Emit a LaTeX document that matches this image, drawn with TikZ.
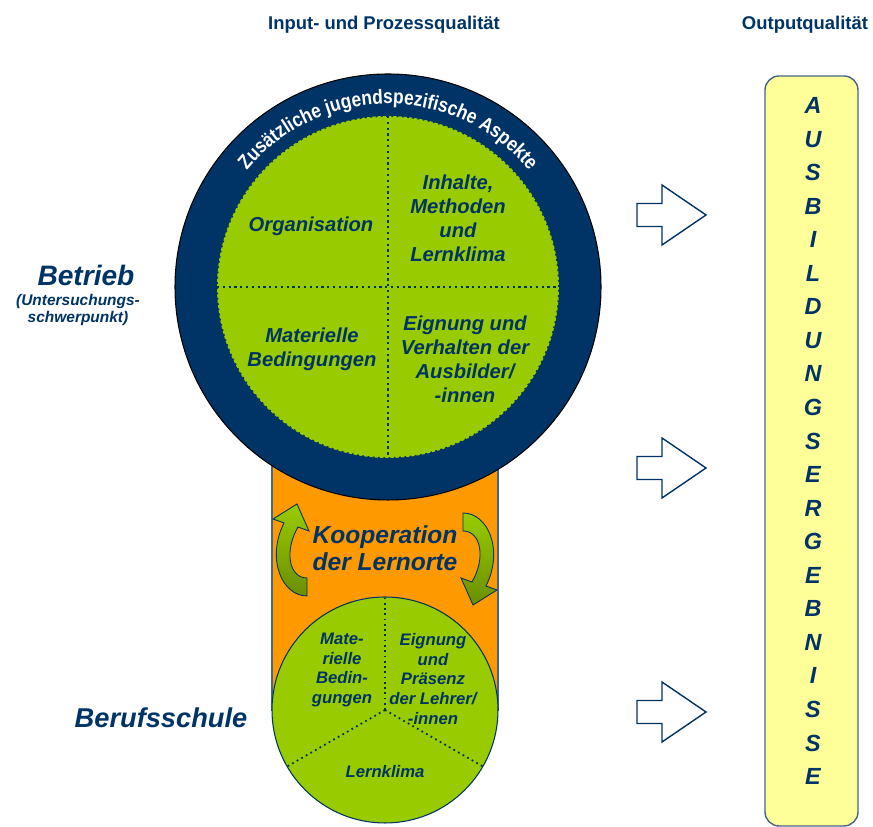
\documentclass[tikz,border=0pt]{standalone}
\usepackage{fontspec}
\setmainfont{Liberation Sans}
\newfontfamily\ringfont[FakeStretch=0.86]{Liberation Sans}
\usetikzlibrary{decorations.text}

\definecolor{navy}{RGB}{0,51,102}
\definecolor{leaf}{RGB}{153,204,0}
\definecolor{olive}{RGB}{107,142,0}
\definecolor{amber}{RGB}{255,153,0}
\definecolor{pale}{RGB}{255,255,153}
\definecolor{frame}{RGB}{70,100,140}

\begin{document}
\begin{tikzpicture}[x=0.02cm,y=0.02cm,
    sector/.style={font=\fontsize{11.5}{13.6}\selectfont\bfseries\itshape,
      text=navy, align=center, inner sep=0pt},
    sectorsmall/.style={font=\fontsize{9.5}{11.3}\selectfont\bfseries\itshape,
      text=navy, align=center, inner sep=0pt},
    place/.style={font=\fontsize{16}{18}\selectfont\bfseries\itshape,
      text=navy, align=center, inner sep=0pt},
    heading/.style={font=\fontsize{10.5}{12}\selectfont\bfseries,
      text=navy, inner sep=0pt},
    divider/.style={navy, dotted, line width=1.3pt},
    bentarrow/.style={draw=navy, line width=0.5pt, top color=leaf,
      bottom color=olive},
    outarrow/.style={draw=navy, line width=0.8pt, fill=white}]

  \useasboundingbox (0,0) rectangle (873,827);

  \coordinate (Betrieb) at (388,540);
  \coordinate (Schule) at (385,117);

  % column headings
  \node[heading] (input) at (384,802) {Input- und Prozessqualität};
  \node[heading] (output) at (805,802) {Outputqualität};

  % link between the two places of learning
  \draw[frame, fill=amber, line width=0.6pt] (272,117) rectangle (498,450);

  % company: ring and four sectors
  \draw[black, line width=0.6pt, fill=navy] (Betrieb) circle[radius=213];
  \draw[navy, dotted, line width=1pt, fill=leaf] (Betrieb) circle[radius=171];
  \draw[divider] (388,711) -- (388,369);
  \draw[divider] (217,540) -- (559,540);
  \path[decorate, decoration={text along path, text align=center,
      text color=white,
      text={|\ringfont\fontsize{11.5}{13}\selectfont\bfseries|Zusätzliche jugendspezifische Aspekte}}]
    (Betrieb) ++(180:183) arc[start angle=180, end angle=0, radius=183];

  \node[sector] (orga) at (311,601) {Organisation};
  \node[sector] (inhalte) at (458,609) {Inhalte,\\Methoden\\und\\Lernklima};
  \node[sector] (material) at (312,478) {Materielle\\Bedingungen};
  \node[sector] (ausbilder) at (465,468)
    {Eignung und\\Verhalten der\\Ausbilder/\\-innen};

  % vocational school: three sectors
  \draw[navy, line width=0.6pt, fill=leaf] (Schule) circle[radius=113];
  \draw[divider, line width=1pt] (Schule) -- (385,230);
  \draw[divider, line width=1pt] (Schule) -- ++(210:113);
  \draw[divider, line width=1pt] (Schule) -- ++(330:113);

  \node[sectorsmall] (materialbs) at (342,157) {Mate-\\rielle\\Bedin-\\gungen};
  \node[sectorsmall] (lehrer) at (433,148)
    {Eignung\\und\\Präsenz\\der Lehrer/\\-innen};
  \node[sectorsmall] (klima) at (385,55) {Lernklima};

  % cooperation with the two bent arrows
  \node[place, font=\fontsize{14}{15.3}\selectfont\bfseries\itshape]
    (koop) at (385,279) {Kooperation\\der Lernorte};
  \path[bentarrow] (307,231) .. controls (282,231) and (266,268) .. (284,304)
    -- (273,308) -- (297,323) -- (309,296) -- (298,300)
    .. controls (284,276) and (289,249) .. (307,249) -- cycle;
  \begin{scope}[rotate around={180:(385,272.5)}]
    \path[bentarrow] (307,231) .. controls (282,231) and (266,268) .. (284,304)
      -- (273,308) -- (297,323) -- (309,296) -- (298,300)
      .. controls (284,276) and (289,249) .. (307,249) -- cycle;
  \end{scope}

  % places of learning
  \node[place] (betrieb) at (86,552) {Betrieb};
  \node[place, font=\fontsize{8.8}{9.8}\selectfont\bfseries\itshape]
    (schwerpunkt) at (78,517) {(Untersuchungs-\\schwerpunkt)};
  \node[place, font=\fontsize{15.5}{18}\selectfont\bfseries\itshape]
    (berufsschule) at (161,109) {Berufsschule};

  % outcome
  \draw[outarrow] (637,600.5) -- ++(25,0) -- ++(0,-18.5) -- ++(44,30)
    -- ++(-44,30) -- ++(0,-18.5) -- ++(-25,0) -- cycle;
  \draw[outarrow] (637,347.5) -- ++(25,0) -- ++(0,-18.5) -- ++(44,30)
    -- ++(-44,30) -- ++(0,-18.5) -- ++(-25,0) -- cycle;
  \draw[outarrow] (637,103.5) -- ++(25,0) -- ++(0,-18.5) -- ++(44,30)
    -- ++(-44,30) -- ++(0,-18.5) -- ++(-25,0) -- cycle;

  \draw[frame, fill=pale, line width=0.8pt, rounded corners=8pt]
    (765,1) rectangle (858,751);
  \node[font=\fontsize{13.3}{19.1}\selectfont\bfseries\itshape, text=navy,
    align=center, inner sep=0pt] (ergebnis) at (813,386)
    {A\\U\\S\\B\\I\\L\\D\\U\\N\\G\\S\\E\\R\\G\\E\\B\\N\\I\\S\\S\\E};

\end{tikzpicture}
\end{document}
